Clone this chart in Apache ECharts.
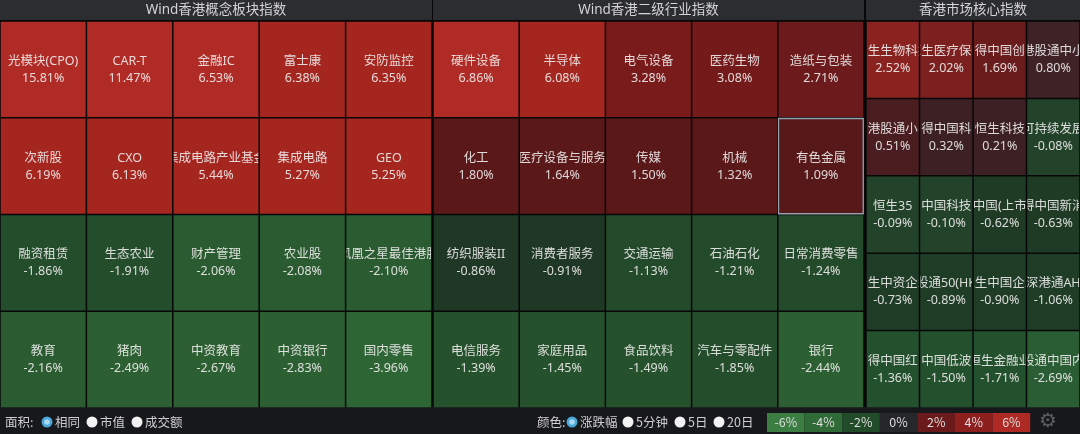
<!DOCTYPE html>
<html>
<head>
<meta charset="utf-8">
<script src="https://cdn.jsdelivr.net/npm/echarts@6/dist/echarts.min.js"></script>
<style>
html,body{margin:0;padding:0;background:#070708;}
#chart{width:1080px;height:434px;}
</style>
</head>
<body>
<div id="chart"></div>
<script>
// ---------------- data ----------------
const panelTitles = ['Wind香港概念板块指数', 'Wind香港二级行业指数', '香港市场核心指数'];

const conceptNames = [
  '光模块(CPO)', 'CAR-T', '金融IC', '富士康', '安防监控',
  '次新股', 'CXO', '集成电路产业基金', '集成电路', 'GEO',
  '融资租赁', '生态农业', '财产管理', '农业股', '凤凰之星最佳港股',
  '教育', '猪肉', '中资教育', '中资银行', '国内零售'
];
const conceptValues = [
  15.81, 11.47, 6.53, 6.38, 6.35,
  6.19, 6.13, 5.44, 5.27, 5.25,
  -1.86, -1.91, -2.06, -2.08, -2.10,
  -2.16, -2.49, -2.67, -2.83, -3.96
];

const industryNames = [
  '硬件设备', '半导体', '电气设备', '医药生物', '造纸与包装',
  '化工', '医疗设备与服务', '传媒', '机械', '有色金属',
  '纺织服装II', '消费者服务', '交通运输', '石油石化', '日常消费零售',
  '电信服务', '家庭用品', '食品饮料', '汽车与零配件', '银行'
];
const industryValues = [
  6.86, 6.08, 3.28, 3.08, 2.71,
  1.80, 1.64, 1.50, 1.32, 1.09,
  -0.86, -0.91, -1.13, -1.21, -1.24,
  -1.39, -1.45, -1.49, -1.85, -2.44
];

const coreNames = [
  '恒生生物科技', '恒生医疗保健', '得中国创', '港股通中小',
  '港股通小', '得中国科', '恒生科技', '可持续发展',
  '恒生35', '中国科技', '中国(上市', '得中国新消',
  '恒生中资企业', '港股通50(HKD)', '恒生中国企业', '沪深港通AH股',
  '得中国红', '中国低波', '恒生金融业', '港股通中国内地'
];
const coreValues = [
  2.52, 2.02, 1.69, 0.80,
  0.51, 0.32, 0.21, -0.08,
  -0.09, -0.10, -0.62, -0.63,
  -0.73, -0.89, -0.90, -1.06,
  -1.36, -1.50, -1.71, -2.69
];

const legendTicks = ['-6%', '-4%', '-2%', '0%', '2%', '4%', '6%'];
const areaOptions = ['相同', '市值', '成交额'];
const colorOptions = ['涨跌幅', '5分钟', '5日', '20日'];

// ---------------- styles ----------------
const highlightedCell = '有色金属';
const legendColors = ['#3b7d43', '#2f6a37', '#224b2a', '#26272b', '#6a1a1b', '#8e1f1f', '#b02a25'];
const cellFont = '12.5px "Noto Sans", "Noto Sans CJK SC", sans-serif';
const uiFont = '12.5px "Noto Sans CJK SC", "Noto Sans", sans-serif';
const textColor = 'rgba(238,236,236,0.9)';

const panels = [
  {names: conceptNames, values: conceptValues, cols: 5, rows: 4, left: 0, width: 432},
  {names: industryNames, values: industryValues, cols: 5, rows: 4, left: 433, width: 431},
  {names: coreNames, values: coreValues, cols: 4, rows: 5, left: 866, width: 214}
];
const gridTop = 21, gridHeight = 387;

function makeRender(names) {
  return function (params, api) {
    const c = api.coord([api.value(0), api.value(1)]);
    const s = api.size([1, 1]);
    const x0 = c[0] - s[0] / 2, y0 = c[1] - s[1] / 2;
    const name = names[params.dataIndex];
    const v = api.value(2);
    const hl = name === highlightedCell;
    return {
      type: 'group',
      children: [
        {
          type: 'rect',
          shape: {x: x0 + 0.75, y: y0 + 0.75, width: s[0] - 1.5, height: s[1] - 1.5},
          style: {fill: api.visual('color'), stroke: hl ? '#93a2ad' : null, lineWidth: hl ? 1.3 : 0}
        },
        {
          type: 'group',
          clipPath: {type: 'rect', shape: {x: x0 + 1, y: y0, width: s[0] - 2, height: s[1]}},
          children: [
            {type: 'text', style: {text: name, x: c[0], y: c[1] - 8, fill: textColor, font: cellFont, align: 'center', verticalAlign: 'middle'}},
            {type: 'text', style: {text: v.toFixed(2) + '%', x: c[0], y: c[1] + 9, fill: textColor, font: cellFont, align: 'center', verticalAlign: 'middle'}}
          ]
        }
      ]
    };
  };
}

const grids = [], xAxes = [], yAxes = [], series = [];
panels.forEach((p, i) => {
  grids.push({left: p.left, top: gridTop, width: p.width, height: gridHeight});
  xAxes.push({type: 'category', gridIndex: i, show: false, data: Array.from({length: p.cols}, (_, k) => String(k))});
  yAxes.push({type: 'category', gridIndex: i, show: false, inverse: true, data: Array.from({length: p.rows}, (_, k) => String(k))});
  series.push({
    type: 'custom',
    xAxisIndex: i, yAxisIndex: i,
    silent: true,
    renderItem: makeRender(p.names),
    encode: {x: 0, y: 1},
    data: p.values.map((v, k) => ({name: p.names[k], value: [k % p.cols, Math.floor(k / p.cols), v]}))
  });
});

// ---------------- graphic UI (headers / bottom bar) ----------------
const graphics = [];
panels.forEach((p, i) => {
  graphics.push({type: 'rect', shape: {x: p.left, y: 0, width: p.width, height: 20}, style: {fill: '#2c2d31'}, silent: true});
  graphics.push({type: 'text', x: p.left + p.width / 2, y: 10.5, style: {text: panelTitles[i], fill: '#d4d4d6', font: '13.5px "Noto Sans", "Noto Sans CJK SC", sans-serif', align: 'center', verticalAlign: 'middle'}, silent: true});
});
graphics.push({type: 'rect', shape: {x: 0, y: 407, width: 1080, height: 27}, style: {fill: '#17181c'}, silent: true});

function radio(cx, selected) {
  if (selected) {
    graphics.push({type: 'circle', shape: {cx: cx, cy: 422, r: 5.5}, style: {fill: '#4aa6d6'}, silent: true});
    graphics.push({type: 'circle', shape: {cx: cx, cy: 422, r: 2.8}, style: {fill: '#a9d9f2'}, silent: true});
  } else {
    graphics.push({type: 'circle', shape: {cx: cx, cy: 422, r: 5.5}, style: {fill: '#f2f2f2'}, silent: true});
  }
}
function uiText(x, txt) {
  graphics.push({type: 'text', x: x, y: 422, style: {text: txt, fill: '#cfcfd2', font: uiFont, align: 'left', verticalAlign: 'middle'}, silent: true});
}
uiText(5, '面积:');
const areaRadioX = [47, 92, 137];
areaOptions.forEach((t, i) => { radio(areaRadioX[i], i === 0); uiText(areaRadioX[i] + 8, t); });
uiText(537, '颜色:');
const colorRadioX = [572, 628, 680, 719];
colorOptions.forEach((t, i) => { radio(colorRadioX[i], i === 0); uiText(colorRadioX[i] + 8, t); });

const lgX0 = 767, lgW = 37.6;
legendTicks.forEach((t, i) => {
  graphics.push({type: 'rect', shape: {x: lgX0 + i * lgW, y: 413, width: lgW, height: 19}, style: {fill: legendColors[i]}, silent: true});
  graphics.push({type: 'text', x: lgX0 + i * lgW + lgW / 2, y: 422.5, style: {text: t, fill: '#dedede', font: uiFont, align: 'center', verticalAlign: 'middle'}, silent: true});
});
graphics.push({type: 'text', x: 1048, y: 422, style: {text: '⚙', fill: '#5e5f63', font: '20px "DejaVu Sans", sans-serif', align: 'center', verticalAlign: 'middle'}, silent: true});

const chart = echarts.init(document.getElementById('chart'));
chart.setOption({
  backgroundColor: '#070708',
  animation: false,
  grid: grids,
  xAxis: xAxes,
  yAxis: yAxes,
  visualMap: [
    {
      type: 'piecewise', show: false, dimension: 2, seriesIndex: [0, 1],
      pieces: [
        {lt: -3, color: '#2d6535'},
        {gte: -3, lt: -2.3, color: '#2c6033'},
        {gte: -2.3, lt: -1.95, color: '#2a5b31'},
        {gte: -1.95, lt: -1.8, color: '#244d2c'},
        {gte: -1.8, lt: -1.3, color: '#25522c'},
        {gte: -1.3, lt: -1.0, color: '#234a2a'},
        {gte: -1.0, lt: 0, color: '#1f3725'},
        {gte: 0, lt: 1.2, color: '#561819'},
        {gte: 1.2, lt: 2.0, color: '#5a1819'},
        {gte: 2.0, lt: 2.9, color: '#6c1a1b'},
        {gte: 2.9, lt: 3.2, color: '#741a1b'},
        {gte: 3.2, lt: 4, color: '#7a1b1b'},
        {gte: 4, lt: 6.5, color: '#a4261f'},
        {gte: 6.5, color: '#b02b25'}
      ]
    },
    {
      type: 'piecewise', show: false, dimension: 2, seriesIndex: [2],
      pieces: [
        {lt: -2, color: '#2a5d33'},
        {gte: -2, lt: -1.2, color: '#24512d'},
        {gte: -1.2, lt: -0.7, color: '#1f3d26'},
        {gte: -0.7, lt: -0.3, color: '#1f3b25'},
        {gte: -0.3, lt: 0, color: '#22432a'},
        {gte: 0, lt: 0.4, color: '#3d2023'},
        {gte: 0.4, lt: 0.6, color: '#4a1d20'},
        {gte: 0.6, lt: 1.0, color: '#3f2225'},
        {gte: 1.0, lt: 1.9, color: '#6a1b1c'},
        {gte: 1.9, lt: 2.3, color: '#7c1f1f'},
        {gte: 2.3, color: '#8a2320'}
      ]
    }
  ],
  series: series,
  graphic: graphics
});
</script>
</body>
</html>
